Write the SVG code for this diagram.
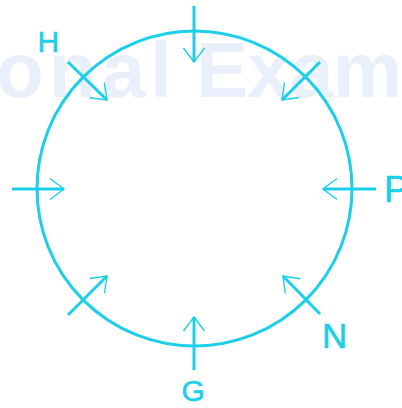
<svg xmlns="http://www.w3.org/2000/svg" width="402" height="408" viewBox="0 0 402 408">
<style>
.wm{fill:#e9effb;font-family:"Liberation Sans",Arial,sans-serif;font-weight:bold;font-size:78px}
.ring{fill:none;stroke:#1ccfe8;stroke-width:3}
.arr{stroke:#1ccfe8;stroke-width:3;fill:none;marker-end:url(#head)}
.lbl{fill:#1ccfe8;stroke:#1ccfe8;stroke-width:0.6;font-family:"Liberation Sans",Arial,sans-serif}
</style>
<defs>
<marker id="head" markerUnits="userSpaceOnUse" markerWidth="30" markerHeight="30" viewBox="-20 -15 30 30" refX="0" refY="0" orient="auto">
<path d="M-14,-10.5 L0,0 L-14,10.5" fill="none" stroke="#1ccfe8" stroke-width="1.4"/>
</marker>
</defs>
<g id="watermark">
<text class="wm" x="-4" y="97" textLength="176" lengthAdjust="spacing">onal</text>
<text class="wm" x="196" y="97" textLength="206" lengthAdjust="spacing">Exam</text>
</g>
<g id="circle"><circle class="ring" cx="194.5" cy="188.5" r="157.5"/></g>
<g id="connectors">
<line class="arr" x1="194" y1="6" x2="194" y2="62"/>
<line class="arr" x1="194" y1="370" x2="194" y2="317"/>
<line class="arr" x1="12" y1="189" x2="64" y2="189"/>
<line class="arr" x1="376" y1="189" x2="323" y2="189"/>
<line class="arr" x1="68" y1="62" x2="107" y2="100"/>
<line class="arr" x1="320" y1="62" x2="282" y2="100"/>
<line class="arr" x1="68" y1="315" x2="107" y2="276"/>
<line class="arr" x1="320" y1="314" x2="283" y2="276"/>
</g>
<g id="H"><text class="lbl" x="37.6" y="52" font-size="30">H</text></g>
<g id="P"><text class="lbl" x="384" y="202" font-size="37">P</text></g>
<g id="N"><text class="lbl" x="322" y="348" font-size="35">N</text></g>
<g id="G"><text class="lbl" x="181.5" y="401" font-size="30">G</text></g>
</svg>
